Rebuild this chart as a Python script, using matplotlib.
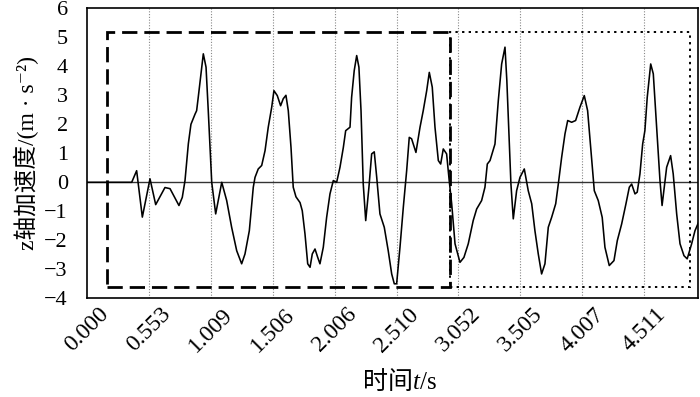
import matplotlib
matplotlib.use("Agg")
import matplotlib.pyplot as plt
from matplotlib.patches import Rectangle

FAMILY = ['Liberation Serif', 'DejaVu Serif', 'Noto Sans CJK SC']
plt.rcParams['font.family'] = FAMILY
plt.rcParams['axes.unicode_minus'] = True

# ---- data ----
time_s = [0.000, 0.359, 0.399, 0.445, 0.507, 0.553, 0.628, 0.669, 0.741, 0.768,
          0.790, 0.817, 0.838, 0.871, 0.884, 0.897, 0.938, 0.960, 0.978, 1.006,
          1.038, 1.087, 1.127, 1.167, 1.208, 1.248, 1.275, 1.310, 1.342, 1.356,
          1.382, 1.410, 1.437, 1.463, 1.491, 1.509, 1.536, 1.563, 1.584, 1.606,
          1.625, 1.647, 1.665, 1.687, 1.720, 1.738, 1.760, 1.782, 1.801, 1.819,
          1.841, 1.863, 1.881, 1.908, 1.935, 1.962, 1.989, 2.016, 2.043, 2.070,
          2.089, 2.124, 2.137, 2.158, 2.178, 2.196, 2.213, 2.231, 2.251, 2.277,
          2.299, 2.320, 2.340, 2.366, 2.401, 2.433, 2.461, 2.482, 2.501, 2.528,
          2.555, 2.582, 2.603, 2.622, 2.657, 2.690, 2.716, 2.744, 2.765, 2.789,
          2.811, 2.838, 2.857, 2.878, 2.905, 2.926, 2.946, 2.973, 3.013, 3.045,
          3.080, 3.120, 3.148, 3.188, 3.215, 3.234, 3.256, 3.296, 3.323, 3.350,
          3.377, 3.392, 3.410, 3.425, 3.444, 3.471, 3.498, 3.533, 3.565, 3.593,
          3.619, 3.646, 3.673, 3.700, 3.727, 3.754, 3.787, 3.808, 3.835, 3.862,
          3.884, 3.916, 3.948, 3.983, 4.018, 4.045, 4.072, 4.099, 4.131, 4.163,
          4.185, 4.220, 4.258, 4.285, 4.320, 4.355, 4.382, 4.401, 4.428, 4.446,
          4.468, 4.490, 4.508, 4.527, 4.555, 4.576, 4.603, 4.630, 4.647, 4.684,
          4.716, 4.737, 4.765, 4.792, 4.824, 4.850, 4.886, 4.913, 4.948]

accel = [0.00, 0.00, 0.40, -1.20, 0.12, -0.77, -0.18, -0.22, -0.80, -0.52,
         0.06, 1.33, 2.00, 2.35, 2.47, 2.93, 4.43, 3.97, 2.47, 0.00,
         -1.09, 0.00, -0.63, -1.55, -2.36, -2.81, -2.47, -1.67, -0.17, 0.17,
         0.46, 0.58, 1.09, 1.90, 2.59, 3.16, 2.99, 2.64, 2.88, 3.00,
         2.47, 1.20, -0.17, -0.50, -0.70, -0.98, -1.78, -2.81, -2.93, -2.47,
         -2.30, -2.59, -2.81, -2.24, -1.21, -0.40, 0.06, 0.00, 0.52, 1.20,
         1.78, 1.90, 2.93, 3.85, 4.37, 3.97, 2.47, -0.06, -1.32, -0.17,
         0.98, 1.05, 0.17, -1.09, -1.55, -2.36, -3.16, -3.50, -3.50, -2.24,
         -0.86, 0.40, 1.55, 1.50, 1.03, 1.90, 2.47, 3.16, 3.79, 3.28,
         1.90, 0.75, 0.63, 1.15, 0.98, 0.06, -0.74, -2.12, -2.76, -2.59,
         -2.12, -1.32, -0.92, -0.63, -0.17, 0.63, 0.75, 1.32, 2.82, 4.08,
         4.66, 3.50, 1.60, -0.06, -1.26, -0.29, 0.17, 0.46, -0.29, -0.74,
         -1.67, -2.47, -3.16, -2.81, -1.55, -1.21, -0.74, -0.06, 0.86, 1.67,
         2.13, 2.07, 2.13, 2.59, 2.99, 2.47, 1.09, -0.29, -0.63, -1.21,
         -2.24, -2.87, -2.70, -2.01, -1.44, -0.74, -0.17, -0.06, -0.40, -0.34,
         0.29, 1.32, 1.78, 2.93, 4.08, 3.74, 1.90, 0.06, -0.80, 0.52,
         0.92, 0.29, -1.09, -2.12, -2.53, -2.64, -2.12, -1.67, -1.32]

tick_pos = [0.0, 0.5, 1.0, 1.5, 2.0, 2.5, 3.0, 3.5, 4.0, 4.5]
tick_labels = ["0.000", "0.553", "1.009", "1.506", "2.006",
               "2.510", "3.052", "3.505", "4.007", "4.511"]
y_ticks = [-4, -3, -2, -1, 0, 1, 2, 3, 4, 5, 6]

window1_x = (0.157, 2.932)
window2_x = (2.932, 4.872)
window_y = (-3.6, 5.17)

y_label = 'z轴加速度/(m · s\u207b\u00b2)'
x_label_parts = [('时间', 'normal'), ('t', 'italic'), ('/s', 'normal')]

# ---- figure ----
fig = plt.figure(figsize=(7.0, 3.97), dpi=100)
ax = fig.add_axes([0.1247, 0.2486, 0.8729, 0.7305])

ax.set_xlim(0, 4.94)
ax.set_ylim(-4, 6)

for xp in tick_pos[1:]:
    ax.axvline(xp, color='#888888', lw=0.8, ls=(0, (1, 1.5)), zorder=1)
ax.axhline(0, color='#333333', lw=1.0, zorder=2)

ax.plot(time_s, accel, color='black', lw=1.15, zorder=3)

ax.add_patch(Rectangle((window2_x[0], window_y[0]), window2_x[1] - window2_x[0],
                       window_y[1] - window_y[0], fill=False, ec='black',
                       lw=1.4, ls=(0, (1.2, 2.2)), zorder=4))
ax.add_patch(Rectangle((window1_x[0], window_y[0]), window1_x[1] - window1_x[0],
                       window_y[1] - window_y[0], fill=False, ec='black',
                       lw=2.0, ls=(0, (5.5, 2.5)), zorder=5))

ax.set_xticks(tick_pos)
ax.set_xticklabels(tick_labels, rotation=45, ha='center', fontsize=17)
ax.set_yticks(y_ticks)
ax.set_yticklabels([str(v).replace('-', '\u2212') for v in y_ticks], fontsize=16)
ax.tick_params(axis='both', length=0)
ax.tick_params(axis='y', pad=14)
ax.tick_params(axis='x', pad=4)

for s in ax.spines.values():
    s.set_linewidth(1.2)
    s.set_color('black')

ax.set_ylabel(y_label, fontsize=17, labelpad=4)

# x label built from pieces (CJK + italic t + /s), centered below the axes
fig.canvas.draw()
renderer = fig.canvas.get_renderer()
texts = []
for s, style in x_label_parts:
    t = fig.text(0, 0, s, fontsize=18, style=style, family=FAMILY,
                 ha='left', va='center')
    texts.append(t)
widths = [t.get_window_extent(renderer).width for t in texts]
total = sum(widths)
cx_px = 400.0
cy_px = 397 - 383.0
x0 = cx_px - total / 2
for t, w in zip(texts, widths):
    t.set_position((x0 / 700.0, cy_px / 397.0))
    x0 += w

fig.savefig('out.png', dpi=100)
